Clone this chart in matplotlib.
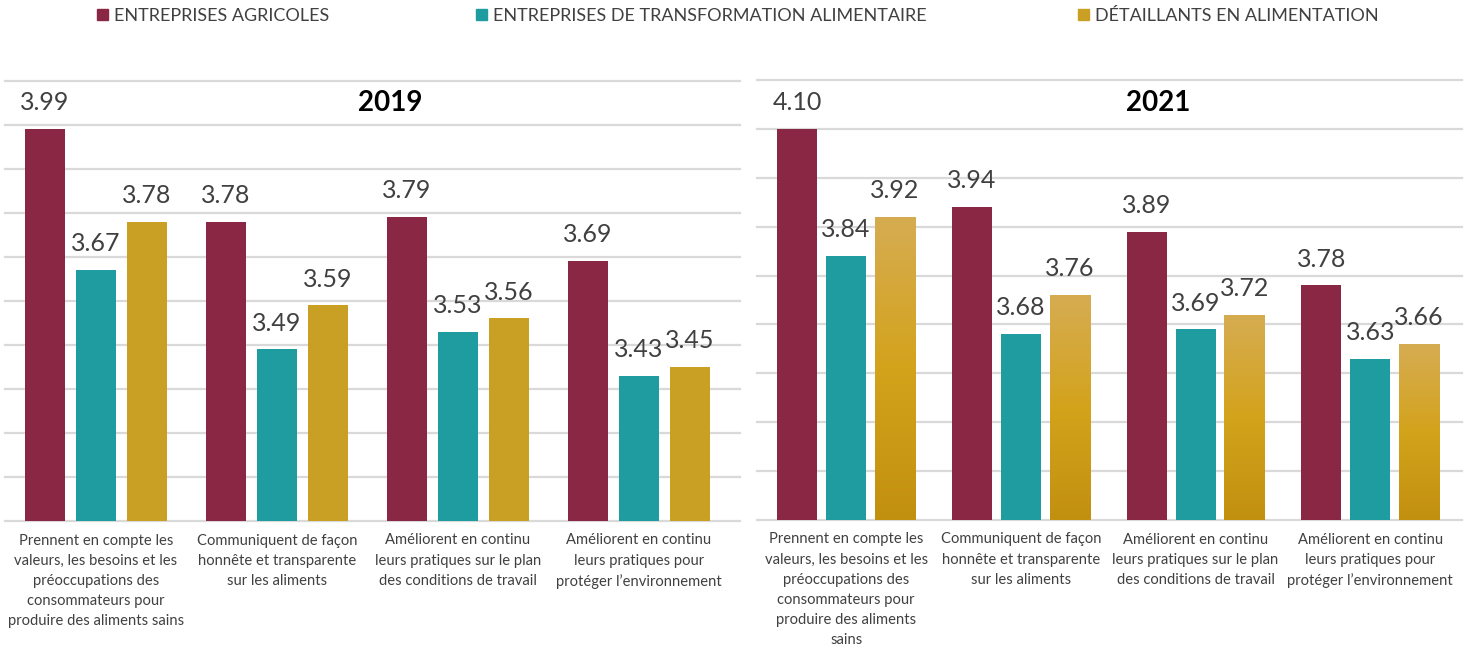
import numpy as np
import matplotlib
matplotlib.use("Agg")
import matplotlib.pyplot as plt
from matplotlib.colors import LinearSegmentedColormap
from matplotlib.patches import Patch

plt.rcParams['font.family'] = ['Lato', 'DejaVu Sans']

# Data
series = ["ENTREPRISES AGRICOLES",
          "ENTREPRISES DE TRANSFORMATION ALIMENTAIRE",
          "DÉTAILLANTS EN ALIMENTATION"]

labels_2019 = ["Prennent en compte les\nvaleurs, les besoins et les\npréoccupations des\nconsommateurs pour\nproduire des aliments sains",
               "Communiquent de façon\nhonnête et transparente\nsur les aliments",
               "Améliorent en continu\nleurs pratiques sur le plan\ndes conditions de travail",
               "Améliorent en continu\nleurs pratiques pour\nprotéger l’environnement"]
labels_2021 = ["Prennent en compte les\nvaleurs, les besoins et les\npréoccupations des\nconsommateurs pour\nproduire des aliments\nsains",
               "Communiquent de façon\nhonnête et transparente\nsur les aliments",
               "Améliorent en continu\nleurs pratiques sur le plan\ndes conditions de travail",
               "Améliorent en continu\nleurs pratiques pour\nprotéger l’environnement"]

agricoles_2019 = [3.99, 3.78, 3.79, 3.69]
transformation_2019 = [3.67, 3.49, 3.53, 3.43]
detaillants_2019 = [3.78, 3.59, 3.56, 3.45]

agricoles_2021 = [4.10, 3.94, 3.89, 3.78]
transformation_2021 = [3.84, 3.68, 3.69, 3.63]
detaillants_2021 = [3.92, 3.76, 3.72, 3.66]

burgundy = "#8A2744"
teal = "#1F9C9F"
gold = "#C9A024"
text_col = "#404040"
grid_col = "#D9D9D9"

gold_grad = LinearSegmentedColormap.from_list("gold", ["#C2900F", "#D3A31C", "#D6AC52"])


def draw_panel(ax, values, ymin, ymax, xlim, width, offset, labels, gradient=False):
    x = np.arange(len(labels))
    colors = [burgundy, teal, gold]
    for k, vals in enumerate(values):
        pos = x + (k - 1) * offset
        bars = ax.bar(pos, vals, width, color=colors[k], zorder=2)
        for b, v in zip(bars, vals):
            if gradient and k == 2:
                b.set_facecolor("none")
                bx = b.get_x()
                img = ax.imshow(np.linspace(0, 1, 256).reshape(-1, 1), cmap=gold_grad,
                                extent=[bx, bx + width, ymin, v], origin="lower",
                                aspect="auto", zorder=2)
                img.set_clip_path(b)
            ax.annotate(f"{v:.2f}", (b.get_x() + width / 2, v), xytext=(0, 13.5),
                        textcoords="offset points", ha="center", va="baseline",
                        fontsize=18, color=text_col)
    for g in np.arange(ymin, ymax + 0.001, 0.1):
        ax.axhline(g, color=grid_col, lw=1.6, zorder=0, clip_on=False)
    ax.set_xlim(*xlim)
    ax.set_ylim(ymin, ymax)
    ax.set_yticks([])
    ax.set_xticks(x)
    ax.set_xticklabels(labels, fontsize=10.6, color=text_col, linespacing=1.55)
    ax.tick_params(axis="x", length=0, pad=9)
    for s in ax.spines.values():
        s.set_visible(False)


fig = plt.figure(figsize=(14.73, 6.47), dpi=100)
W, H = 1473, 647

ax1 = fig.add_axes([5 / W, 1 - 521 / H, 735 / W, 440.3 / H])
ax2 = fig.add_axes([757 / W, 1 - 520 / H, 705 / W, 440 / H])

draw_panel(ax1, [agricoles_2019, transformation_2019, detaillants_2019],
           3.1, 4.1, (-0.503, 3.558), 0.221, 0.282, labels_2019)
draw_panel(ax2, [agricoles_2021, transformation_2021, detaillants_2021],
           3.3, 4.2, (-0.51, 3.525), 0.229, 0.28, labels_2021, gradient=True)

fig.text(390 / W, 1 - 103 / H, "2019", ha="center", va="center",
         fontsize=20, fontweight="bold", color="black")
fig.text(1158 / W, 1 - 103 / H, "2021", ha="center", va="center",
         fontsize=20, fontweight="bold", color="black")

# legend, one entry at a time so the spacing follows the original
leg_x = [97, 476, 1078]
for name, col, lx in zip(series, [burgundy, teal, gold], leg_x):
    fig.legend(handles=[Patch(color=col)], labels=[name], loc="center left",
               bbox_to_anchor=(lx / W, 1 - 16 / H), frameon=False, fontsize=13,
               handlelength=0.62, handleheight=0.62, handletextpad=0.33,
               borderpad=0, borderaxespad=0, labelcolor=text_col)

fig.savefig("out.png", dpi=100)
